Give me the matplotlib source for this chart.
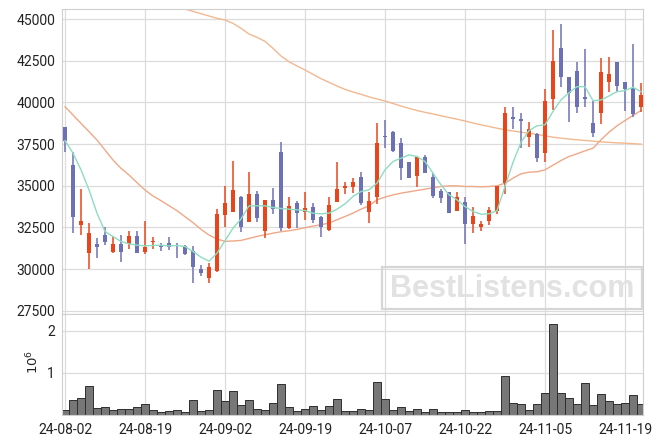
import numpy as np
import matplotlib
matplotlib.use('Agg')
import matplotlib.pyplot as plt
from matplotlib.patches import Rectangle

# OHLC values (one per trading day, 24-08-02 .. 24-11-21)
opens = [38500, 36240, 32640, 30980, 31500, 32040, 31040, 31500, 31480, 31980,
         31040, 31640, 31360, 31540, 31400, 31380, 31080, 29980, 29440, 29900,
         33240, 33440, 34320, 32840, 34500, 32300, 34140, 37000, 32480, 33980,
         33420, 33720, 33120, 32340, 34040, 34880, 34940, 35520, 33420, 34340,
         38000, 38220, 37540, 36400, 35600, 36740, 35540, 34700, 34600, 33500,
         34020, 32680, 32540, 32900, 33500, 35140, 39100, 39000, 37940, 38100,
         36940, 40180, 43240, 41520, 41880, 40300, 38740, 39340, 41240, 42400,
         41220, 40840, 39700]
highs = [38550, 37040, 34780, 32780, 31840, 32540, 31940, 32020, 32280, 32280,
         32880, 31940, 31580, 31940, 31540, 31440, 31380, 30220, 30340, 33580,
         34980, 36460, 34380, 35800, 34700, 34140, 34840, 37600, 34300, 34080,
         34640, 33940, 33180, 34340, 36400, 35240, 35480, 35800, 34640, 38740,
         38940, 38260, 37840, 36440, 36740, 36840, 35780, 34780, 34600, 34640,
         34340, 33740, 32880, 33740, 35000, 39700, 39700, 39340, 38800, 38140,
         40780, 44340, 44680, 41540, 42400, 43180, 40080, 42640, 42700, 42400,
         41220, 43500, 41140]
lows = [37050, 32140, 32040, 29980, 30640, 31440, 30940, 30440, 31180, 30940,
        30880, 31180, 31100, 31140, 30640, 30840, 29180, 29580, 29180, 29850,
        32540, 33400, 32200, 32800, 32800, 31880, 33320, 32280, 32380, 32480,
        32940, 32780, 31940, 32300, 34000, 34500, 34540, 33840, 32780, 33900,
        37250, 37040, 35320, 35440, 34940, 35740, 34240, 33940, 33340, 33500,
        31480, 32140, 32280, 32640, 33300, 34500, 38380, 37240, 37340, 36400,
        36400, 39540, 40940, 38840, 39380, 39740, 37900, 38680, 40640, 40640,
        39480, 39100, 39400]
closes = [37700, 33140, 32880, 32160, 31340, 31640, 31500, 31040, 31980, 30940,
          31320, 31700, 31300, 31300, 31360, 30880, 30140, 29780, 30140, 33300,
          33980, 34740, 32540, 34500, 33080, 34140, 33620, 32480, 33780, 33380,
          33640, 32960, 32540, 33840, 34800, 34980, 35220, 33940, 34080, 37540,
          37920, 37080, 36080, 35480, 36740, 35780, 34400, 34240, 33340, 34300,
          32680, 33180, 32680, 33540, 35000, 39340, 39020, 38860, 38380, 36640,
          40080, 42480, 41540, 40580, 39740, 40220, 38140, 41800, 41680, 41000,
          40780, 39320, 40440]

# volume in millions
volume = [0.11, 0.365, 0.40, 0.69, 0.17, 0.19, 0.13, 0.15, 0.15, 0.19,
          0.26, 0.13, 0.075, 0.106, 0.13, 0.08, 0.365, 0.106, 0.13, 0.60,
          0.34, 0.576, 0.247, 0.365, 0.15, 0.13, 0.294, 0.74, 0.19, 0.106,
          0.15, 0.216, 0.13, 0.216, 0.39, 0.106, 0.106, 0.15, 0.13, 0.79,
          0.39, 0.13, 0.20, 0.106, 0.15, 0.06, 0.15, 0.06, 0.08, 0.08,
          0.13, 0.08, 0.08, 0.106, 0.106, 0.93, 0.294, 0.27, 0.13, 0.27,
          0.53, 2.17, 0.53, 0.41, 0.27, 0.765, 0.247, 0.506, 0.34, 0.27,
          0.294, 0.48, 0.27]

ma5 = [37710, 36950, 35950, 34750, 33350, 32250, 31950, 31650, 31510, 31430,
       31390, 31410, 31430, 31390, 31410, 31350, 31050, 30710, 30470, 30950,
       31700, 32450, 33000, 33790, 33790, 33790, 33690, 33630, 33590, 33550,
       33510, 33350, 33310, 33350, 33590, 33910, 34350, 34650, 34750, 35150,
       35950, 36450, 36650, 36850, 36750, 36450, 35750, 35050, 34450, 34150,
       33750, 33450, 33290, 33310, 33500, 34950, 36400, 37600, 38300, 38590,
       38650, 39450, 40150, 40580, 40940, 40940, 40100, 40140, 40380, 40640,
       40700, 40900, 40640]
ma20 = [39740, 39240, 38740, 38240, 37740, 37140, 36540, 36040, 35640, 35180,
        34740, 34380, 34100, 33800, 33500, 33140, 32780, 32380, 32040, 31800,
        31660, 31680, 31715, 31835, 31955, 32055, 32150, 32235, 32295, 32375,
        32475, 32575, 32655, 32755, 32955, 33150, 33350, 33590, 33790, 34150,
        34310, 34450, 34550, 34630, 34710, 34790, 34870, 34950, 34990, 34990,
        34950, 34950, 34930, 34950, 34990, 35150, 35450, 35710, 35810, 35830,
        35950, 36230, 36510, 36750, 36910, 37090, 37250, 37750, 38210, 38590,
        38910, 39210, 39510]
ma60 = [np.nan] * 15 + [
        45600, 45460, 45320, 45180, 45040, 44940, 44740, 44440, 44100, 43900,
        43660, 43240, 42780, 42440, 42180, 41940, 41680, 41420, 41200, 40980,
        40780, 40620, 40480, 40330, 40200, 40080, 39930, 39780, 39640, 39510,
        39400, 39300, 39190, 39090, 38990, 38880, 38760, 38650, 38550, 38450,
        38350, 38280, 38210, 38150, 38070, 37990, 37910, 37850, 37800, 37750,
        37710, 37670, 37630, 37600, 37570, 37550, 37520, 37490]

tick_labels = ['24-08-02', '24-08-19', '24-09-02', '24-09-19',
               '24-10-07', '24-10-22', '24-11-05', '24-11-19']
price_ticks = [27500, 30000, 32500, 35000, 37500, 40000, 42500, 45000]

plt.rcParams['font.family'] = ['Roboto', 'DejaVu Sans']

W, H = 663, 444
fig = plt.figure(figsize=(W / 100, H / 100), dpi=100)
ax = fig.add_axes([62 / W, 1 - 314 / H, 581 / W, 305 / H])
axv = fig.add_axes([62 / W, 1 - 415 / H, 581 / W, 101 / H], sharex=ax)

UP = '#e8461a'
DOWN = '#6c71b5'
GRID = '#dcdcdc'

n = len(closes)
x = np.arange(n)
o = np.array(opens)
c = np.array(closes)
cols = [UP if cc >= oo else DOWN for oo, cc in zip(o, c)]

ax.vlines(x, lows, highs, colors=cols, linewidth=1.1, zorder=3)
body = np.maximum(np.abs(c - o), 60)
ax.bar(x, body, bottom=np.minimum(o, c), width=0.6, color=cols,
       linewidth=0, zorder=4)

ax.plot(x, ma60, color='#f2b890', lw=1.0, zorder=2)
ax.plot(x, ma20, color='#efa888', lw=1.0, zorder=2)
ax.plot(x, ma5, color='#8edcc2', lw=1.0, zorder=5)

axv.bar(x, np.array(volume) * 1e6, width=1.0, color='#777777',
        edgecolor='#2e2e2e', linewidth=0.7)

for a in (ax, axv):
    a.grid(True, color=GRID, lw=0.9)
    a.set_axisbelow(True)
    for s in a.spines.values():
        s.set_color('#cfcfcf')
    a.tick_params(length=0, pad=5, labelsize=10, colors='#222222')

ax.set_xlim(-0.375, 72.25)
ax.set_ylim(27300, 45600)
ax.set_yticks(price_ticks)
ax.set_yticklabels([str(v) for v in price_ticks])
ax.tick_params(axis='x', labelbottom=False)

axv.set_ylim(0, 2.4e6)
axv.set_yticks([1e6, 2e6])
axv.set_yticklabels(['1', '2'])
axv.set_xticks(range(0, n, 10))
axv.set_xticklabels(tick_labels)
axv.tick_params(axis='x', pad=6)

fig.text(33 / W, 1 - 362 / H, r'$10^6$', rotation=90, ha='center',
         va='center', fontsize=9.5, color='#222222')

# watermark
fig.patches.append(Rectangle((382 / W, 1 - 309 / H), 260 / W, 42 / H,
                             transform=fig.transFigure, fill=False,
                             edgecolor='#d6d6d6', lw=1.6, zorder=10))
fig.text(512 / W, 1 - 289 / H, 'BestListens.com', ha='center', va='center',
         fontsize=22, fontweight='bold', family='Liberation Sans',
         color='#e2e2e2', zorder=10)

fig.savefig('out.png', dpi=100)
